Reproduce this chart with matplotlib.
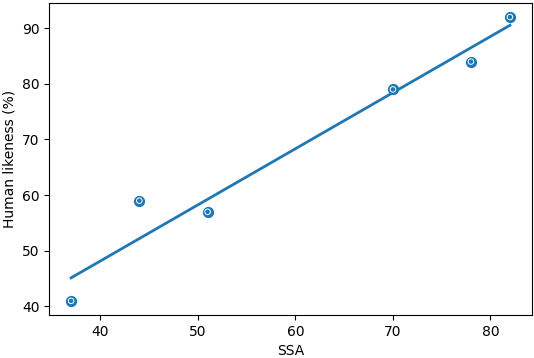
import numpy as np
import matplotlib.pyplot as plt

ssa = [37, 44, 51, 70, 78, 82]
human_likeness = [41, 59, 57, 79, 84, 92]

# least squares fit line
coef = np.polyfit(ssa, human_likeness, 1)
xs = np.array([min(ssa), max(ssa)])

fig, ax = plt.subplots(figsize=(5.34, 3.58), dpi=100)
ax.scatter(ssa, human_likeness, s=50, color='C0', zorder=3)
ax.scatter(ssa, human_likeness, s=16, facecolors='none', edgecolors='white',
           linewidths=0.7, zorder=4)
ax.plot(xs, np.polyval(coef, xs), color='C0', lw=2)
ax.set_xlabel('SSA')
ax.set_ylabel('Human likeness (%)')
ax.set_xticks([40, 50, 60, 70, 80])
ax.set_yticks([40, 50, 60, 70, 80, 90])
fig.subplots_adjust(left=0.092, right=0.996, top=0.992, bottom=0.12)
fig.savefig('out.png')
